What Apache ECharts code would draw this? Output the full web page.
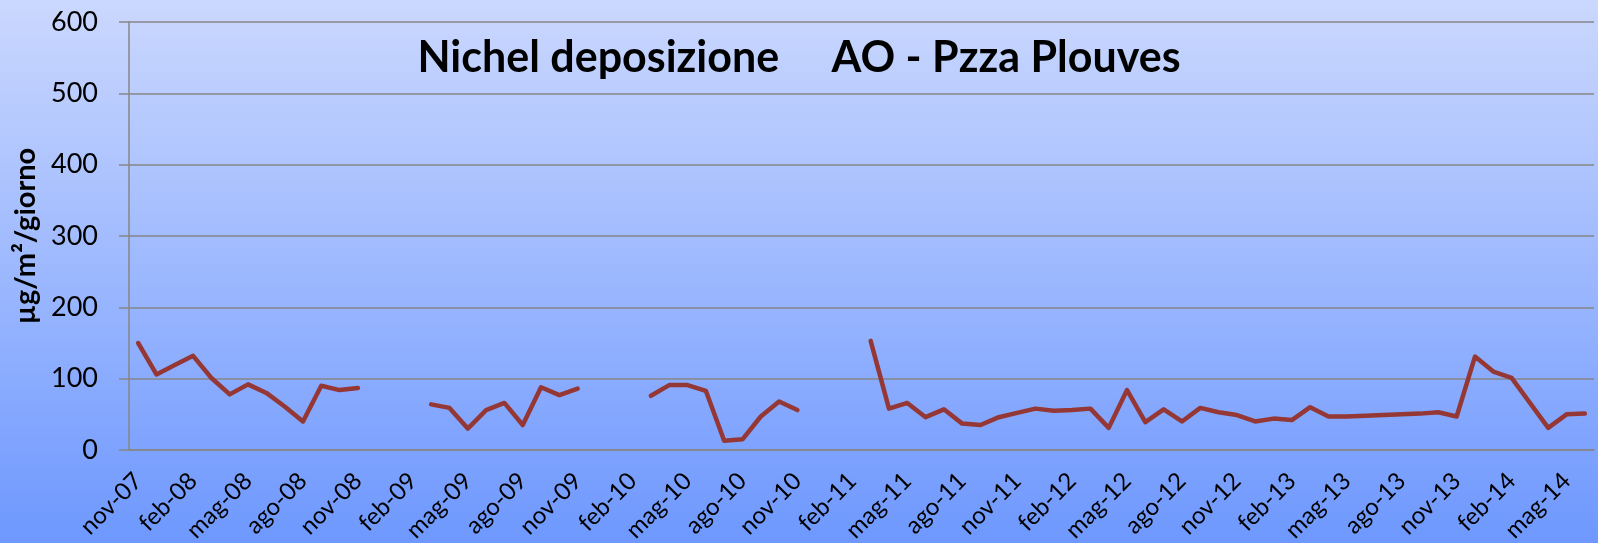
<!DOCTYPE html>
<html>
<head>
<meta charset="utf-8">
<script src="https://cdn.jsdelivr.net/npm/echarts@6/dist/echarts.min.js"></script>
<style>html,body{margin:0;padding:0;}#c{width:1598px;height:543px;}</style>
</head>
<body>
<div id="c"></div>
<script>
const months = [
 'nov-07','dic-07','gen-08','feb-08','mar-08','apr-08','mag-08','giu-08','lug-08','ago-08','set-08','ott-08',
 'nov-08','dic-08','gen-09','feb-09','mar-09','apr-09','mag-09','giu-09','lug-09','ago-09','set-09','ott-09',
 'nov-09','dic-09','gen-10','feb-10','mar-10','apr-10','mag-10','giu-10','lug-10','ago-10','set-10','ott-10',
 'nov-10','dic-10','gen-11','feb-11','mar-11','apr-11','mag-11','giu-11','lug-11','ago-11','set-11','ott-11',
 'nov-11','dic-11','gen-12','feb-12','mar-12','apr-12','mag-12','giu-12','lug-12','ago-12','set-12','ott-12',
 'nov-12','dic-12','gen-13','feb-13','mar-13','apr-13','mag-13','giu-13','lug-13','ago-13','set-13','ott-13',
 'nov-13','dic-13','gen-14','feb-14','mar-14','apr-14','mag-14','giu-14'
];
const nichel = [
 150,106,119,132,101,78,92,80,61,40,90,84,
 87,null,null,null,64,59,30,56,66,35,88,77,
 86,null,null,null,76,91,91,83,13,15,47,68,
 56,null,null,null,153,58,66,46,57,37,35,46,
 52,58,55,56,58,31,84,39,57,40,59,53,
 49,40,44,42,60,47,47,48,49,50,51,53,
 47,131,110,101,66,31,50,51
];
const yTicks = [0,100,200,300,400,500,600];
const titleText = 'Nichel deposizione     AO - Pzza Plouves';
const yName = 'µg/m²/giorno';

const chart = echarts.init(document.getElementById('c'), null, {renderer:'canvas'});
chart.setOption({
  animation:false,
  backgroundColor:{type:'linear',x:0,y:0,x2:0,y2:1,colorStops:[{offset:0,color:'#cbd8fe'},{offset:1,color:'#6e98fe'}]},
  title:{text:titleText,left:'center',top:32,textStyle:{fontFamily:'Lato',fontWeight:'bold',fontSize:43,color:'#000'}},
  grid:{left:129,right:4,top:22,bottom:93,containLabel:false,outerBoundsMode:'none'},
  xAxis:{
    type:'category',data:months,boundaryGap:true,
    axisLine:{lineStyle:{color:'#868686',width:1.5}},
    axisTick:{interval:2,length:7,lineStyle:{color:'#868686',width:1.5}},
    axisLabel:{interval:2,rotate:45,margin:27,fontFamily:'Lato',fontSize:24,color:'#000'}
  },
  yAxis:{
    type:'value',min:yTicks[0],max:yTicks[yTicks.length-1],interval:100,
    name:yName,nameLocation:'middle',nameGap:88,nameRotate:90,
    nameTextStyle:{fontFamily:'Lato',fontWeight:'bold',fontSize:29,color:'#000'},
    axisLine:{show:true,lineStyle:{color:'#868686',width:1.5}},
    axisTick:{show:true,length:10,lineStyle:{color:'#868686',width:1.5}},
    axisLabel:{margin:31,fontFamily:'Lato',fontSize:27,color:'#000'},
    splitLine:{lineStyle:{color:'#868686',width:1.5}}
  },
  series:[{type:'line',data:nichel,showSymbol:false,symbol:'none',connectNulls:false,
    lineStyle:{color:'#953735',width:4.5,cap:'round',join:'round'},itemStyle:{color:'#953735'}}]
});
</script>
</body>
</html>
